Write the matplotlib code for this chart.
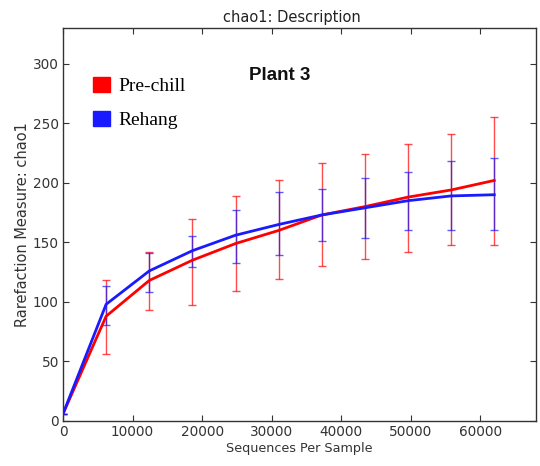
import matplotlib
matplotlib.use("Agg")
import matplotlib.pyplot as plt
from matplotlib.patches import Patch

seqs = [0, 6200, 12400, 18600, 24800, 31000, 37200, 43400, 49600, 55800, 62000]

prechill = [6, 88, 118, 135, 149, 160, 173, 180, 188, 194, 202]
prechill_lo = [6, 56, 93, 97, 109, 119, 130, 136, 142, 148, 148]
prechill_hi = [6, 118, 142, 170, 189, 202, 217, 224, 233, 241, 255]

rehang = [6, 98, 126, 143, 156, 165, 173, 179, 185, 189, 190]
rehang_lo = [6, 81, 108, 129, 133, 139, 151, 154, 160, 160, 160]
rehang_hi = [6, 113, 141, 155, 177, 192, 195, 204, 209, 218, 221]

labels = ["Pre-chill", "Rehang"]
colors = ["#ff0000", "#1a1aff"]

fig = plt.figure(figsize=(5.4, 4.66), dpi=100)
ax = fig.add_axes([63/540, 45/466, (536-63)/540, (421-28)/466])

series = [(prechill, prechill_lo, prechill_hi), (rehang, rehang_lo, rehang_hi)]
for (y, lo, hi), c in zip(series, colors):
    yerr = [[v - l for v, l in zip(y, lo)], [h - v for v, h in zip(y, hi)]]
    ax.errorbar(seqs, y, yerr=yerr, fmt="none", ecolor=c, elinewidth=1.0,
                capsize=3, capthick=1.0, alpha=0.7, zorder=2)
for (y, lo, hi), c in zip(series, colors):
    ax.plot(seqs, y, color=c, lw=2.0, zorder=3)

ax.set_xlim(0, 68000)
ax.set_ylim(0, 330)
ax.set_xticks([0, 10000, 20000, 30000, 40000, 50000, 60000])
ax.set_yticks([0, 50, 100, 150, 200, 250, 300])
ax.tick_params(direction="in", top=True, right=True, length=4, width=0.8,
               labelsize=9.8, labelcolor="#333333", color="#333333", pad=3)
for s in ax.spines.values():
    s.set_color("#333333")
    s.set_linewidth(1.0)

ax.set_title("chao1: Description", fontsize=10.5, color="#222222", pad=4, x=0.483)
ax.set_xlabel("Sequences Per Sample", fontsize=9.2, color="#333333", labelpad=2)
ax.set_ylabel("Rarefaction Measure: chao1", fontsize=10.5, color="#333333", labelpad=2)

handles = [Patch(facecolor=c, edgecolor=c) for c in colors]
ax.legend(handles, labels, loc="upper left", bbox_to_anchor=(79/540, 1 - 63/466),
          bbox_transform=fig.transFigure, frameon=False,
          prop={"family": "Liberation Serif", "size": 14},
          handlelength=0.9, handleheight=0.85, handletextpad=0.45,
          labelspacing=0.8, borderpad=0.2)

fig.text(280/540, 1 - 75/466, "Plant 3", fontsize=13.5, fontweight="bold",
         family="Liberation Sans", ha="center", va="center", color="#111111")

fig.savefig("out.png", dpi=100)
